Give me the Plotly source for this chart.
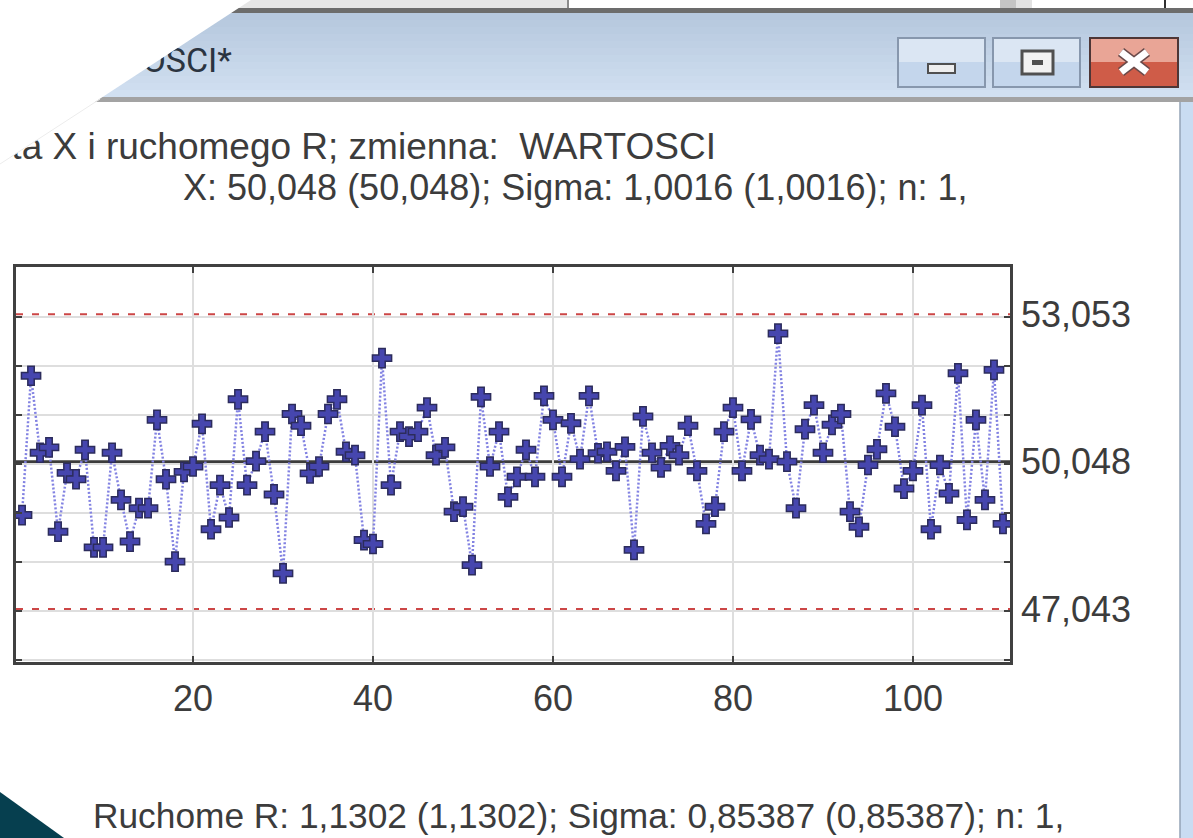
import plotly.graph_objects as go

W, H = 1193, 838

# ---------------- data ----------------
values = [
    48.96, 51.80, 50.23, 50.34, 48.62, 49.82, 49.69, 50.29, 48.30, 48.30,
    50.23, 49.27, 48.42, 49.10, 49.10, 50.90, 49.69, 48.01, 49.84, 49.95,
    50.82, 48.67, 49.57, 48.91, 51.32, 49.57, 50.06, 50.66, 49.38, 47.77,
    51.02, 50.78, 49.81, 49.95, 51.02, 51.32, 50.25, 50.18, 48.45, 48.37,
    52.16, 49.57, 50.66, 50.56, 50.66, 51.15, 50.18, 50.34, 49.03, 49.13,
    47.94, 51.37, 49.95, 50.66, 49.33, 49.74, 50.29, 49.74, 51.39, 50.90,
    49.74, 50.83, 50.10, 51.39, 50.22, 50.25, 49.86, 50.35, 48.25, 50.97,
    50.23, 49.93, 50.37, 50.18, 50.78, 49.86, 48.78, 49.13, 50.66, 51.15,
    49.86, 50.91, 50.18, 50.10, 52.66, 50.05, 49.10, 50.71, 51.20, 50.23,
    50.80, 51.02, 49.03, 48.72, 49.98, 50.30, 51.44, 50.76, 49.50, 49.86,
    51.20, 48.67, 49.98, 49.40, 51.85, 48.86, 50.90, 49.27, 51.92, 48.78,
]
samples = list(range(1, len(values) + 1))
center = 50.048
ucl = 53.053
lcl = 47.043
limit_vals = [lcl, center, ucl]
limit_text = ["47,043", "50,048", "53,053"]
x_ticks = [20, 40, 60, 80, 100]

window_title = "WARTOSCI*"
title_line1 = "Karta X i ruchomego R; zmienna:\u00a0 WARTOSCI"
title_line2 = "X: 50,048 (50,048); Sigma: 1,0016 (1,0016); n: 1,"
bottom_text = "Ruchome R: 1,1302 (1,1302); Sigma: 0,85387 (0,85387); n: 1,"

# ---------------- helpers ----------------
def PX(x):
    return x / W

def PY(y):
    return 1 - y / H

FONT = "Liberation Sans, Arial, sans-serif"
TXT = "#3c3c3c"

# plot frame in pixels
L, R, T, B = 16, 1010, 267, 662

fig = go.Figure()

# connecting dotted line + markers
fig.add_trace(go.Scatter(
    x=samples, y=values, mode="lines+markers",
    line=dict(color="#8282e2", width=2.5, dash="2px,2px"),
    marker=dict(symbol="cross", size=16, color="#4646ae",
                line=dict(color="#2c2c5c", width=1.5)),
    showlegend=False, hoverinfo="x+y", xaxis="x", yaxis="y",
))
# dummy trace for right axis
fig.add_trace(go.Scatter(x=[samples[0]], y=[center], mode="markers",
                         marker=dict(opacity=0), showlegend=False,
                         hoverinfo="skip", xaxis="x", yaxis="y2"))

# text traces in pixel (chrome) coordinates so they can be masked
fig.add_trace(go.Scatter(
    x=[232], y=[63], mode="text", text=[window_title], textposition="middle left",
    textfont=dict(family="Roboto, Liberation Sans, sans-serif", size=34,
                  color="#2b3440"),
    showlegend=False, hoverinfo="skip", xaxis="x3", yaxis="y3"))
fig.add_trace(go.Scatter(
    x=[716], y=[150], mode="text", text=[title_line1], textposition="middle left",
    textfont=dict(family=FONT, size=37, color=TXT),
    showlegend=False, hoverinfo="skip", xaxis="x3", yaxis="y3"))

shapes = []

def rect(x0, y0, x1, y1, fill, line_color=None, lw=0, layer="below"):
    shapes.append(dict(type="rect", xref="paper", yref="paper",
                       x0=PX(x0), x1=PX(x1), y0=PY(y1), y1=PY(y0),
                       fillcolor=fill, layer=layer,
                       line=dict(color=line_color or fill, width=lw)))

def line(x0, y0, x1, y1, color, lw, layer="below"):
    shapes.append(dict(type="line", xref="paper", yref="paper",
                       x0=PX(x0), x1=PX(x1), y0=PY(y0), y1=PY(y1),
                       layer=layer, line=dict(color=color, width=lw)))

# top strip (background window)
rect(0, 0, 567, 8, "#e6e6e6")
line(568, 0, 568, 8, "#8c8c8c", 2)
rect(1000, 0, 1016, 8, "#c4c4c4")
rect(1016, 0, 1032, 8, "#e2e2e2")
line(1165, 0, 1165, 8, "#303030", 2)
rect(0, 8, W, 13, "#6c6c6c")

# title bar gradient
top_c = (0xb6, 0xc8, 0xde)
bot_c = (0xd1, 0xe0, 0xf1)
n = 12
y_a, y_b = 13, 97
for i in range(n):
    t = i / (n - 1)
    c = tuple(int(top_c[k] + (bot_c[k] - top_c[k]) * t) for k in range(3))
    ya = y_a + (y_b - y_a) * i / n
    yb = y_a + (y_b - y_a) * (i + 1) / n + 0.5
    rect(0, ya, W, yb, "rgb(%d,%d,%d)" % c)
rect(0, 97, W, 102, "#a3a3a3")

# right window border
rect(1180, 102, W, H, "#c9dcf2")
line(1180, 102, 1180, H, "#93a3b6", 1.5)

# bottom-left dark triangle
shapes.append(dict(type="path", xref="paper", yref="paper",
                   path="M %f %f L %f %f L %f %f Z" % (PX(0), PY(792), PX(64), PY(H), PX(0), PY(H)),
                   fillcolor="#063f4f", line=dict(width=0), layer="below"))

# buttons
def button(x0, x1, top, bottom, border):
    rect(x0, 38, x1, 62, top)
    rect(x0, 62, x1, 87, bottom)
    shapes.append(dict(type="rect", xref="paper", yref="paper",
                       x0=PX(x0), x1=PX(x1), y0=PY(87), y1=PY(38),
                       fillcolor="rgba(0,0,0,0)", layer="below",
                       line=dict(color=border, width=2)))

button(898, 985, "#dbe6f3", "#c4d6ec", "#8797ad")
button(993, 1080, "#dbe6f3", "#c4d6ec", "#8797ad")
button(1090, 1178, "#e9a596", "#cf5c48", "#4e3636")
# minimize icon
rect(928, 64, 955, 73, "#eeeeee", "#505050", 2)
# restore icon
rect(1022, 51, 1053, 74, "#f2f2f2", "#505050", 3)
rect(1032, 60, 1043, 65, "#505050")
# close icon
line(1121, 52, 1147, 72, "#6a4a4a", 10)
line(1121, 72, 1147, 52, "#6a4a4a", 10)
line(1121, 52, 1147, 72, "#ffffff", 7)
line(1121, 72, 1147, 52, "#ffffff", 7)

# diagonal white mask (above traces)
shapes.append(dict(type="path", xref="paper", yref="paper",
                   path="M %f %f L %f %f L %f %f Z" % (PX(0), PY(0), PX(251), PY(0), PX(0), PY(164)),
                   fillcolor="#ffffff", line=dict(width=0), layer="above"))
line(100, 99, 0, 164, "#ececec", 1, layer="above")

# control lines
for val, col, dash, lw in [(ucl, "#cc4646", "7px,9px", 2),
                           (lcl, "#cc4646", "7px,9px", 2),
                           (center, "#3c3c3c", "solid", 3)]:
    shapes.append(dict(type="line", xref="x domain", yref="y", x0=0, x1=1,
                       y0=val, y1=val, layer="below",
                       line=dict(color=col, width=lw, dash=dash)))

annotations = [
    dict(x=575, y=187, xref="x3", yref="y3", text=title_line2, showarrow=False,
         font=dict(family=FONT, size=36, color=TXT), xanchor="center", yanchor="middle"),
    dict(x=578, y=815, xref="x3", yref="y3", text=bottom_text, showarrow=False,
         font=dict(family=FONT, size=35.3, color=TXT), xanchor="center", yanchor="middle"),
]

frame = "#404040"
fig.update_layout(
    width=W, height=H, margin=dict(l=0, r=0, t=0, b=0),
    paper_bgcolor="#ffffff", plot_bgcolor="rgba(0,0,0,0)",
    shapes=shapes, annotations=annotations, showlegend=False,
    font=dict(family=FONT, color=TXT),
    xaxis=dict(domain=[PX(L), PX(R)], range=[0.33, 110.78], anchor="y",
               tickvals=x_ticks, ticks="inside", ticklen=6, tickwidth=2, tickcolor=frame,
               mirror="ticks", showline=True, linecolor=frame, linewidth=3,
               showgrid=True, gridcolor="#dedede", gridwidth=2, zeroline=False,
               tickfont=dict(family=FONT, size=36, color=TXT), ticklabelstandoff=3),
    yaxis=dict(domain=[PY(B), PY(T)], range=[45.964, 54.017], anchor="x",
               tick0=0, dtick=1, ticks="inside", ticklen=6, tickwidth=2, tickcolor=frame,
               mirror="ticks", showline=True, linecolor=frame, linewidth=3,
               showgrid=True, gridcolor="#dedede", gridwidth=2, zeroline=False,
               showticklabels=False),
    yaxis2=dict(overlaying="y", side="right", anchor="x", range=[45.964, 54.017],
                tickvals=limit_vals, ticktext=limit_text, ticks="", showgrid=False,
                zeroline=False, showline=False,
                tickfont=dict(family=FONT, size=36, color=TXT), ticklabelstandoff=10),
    xaxis3=dict(domain=[0, 1], range=[0, W], anchor="y3", visible=False, fixedrange=True),
    yaxis3=dict(domain=[0, 1], range=[H, 0], anchor="x3", visible=False, fixedrange=True),
)

fig.write_html("out.html", config={"displayModeBar": False},
               post_script="document.body.style.margin='0';document.body.style.overflow='hidden';")
